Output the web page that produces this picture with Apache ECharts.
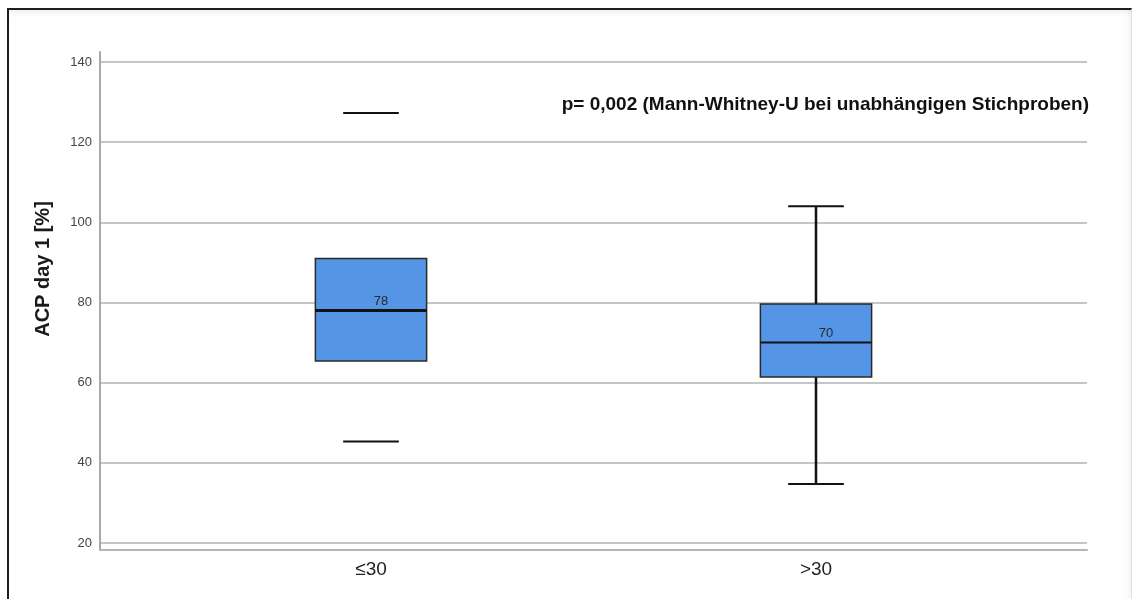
<!DOCTYPE html>
<html>
<head>
<meta charset="utf-8">
<script src="https://cdn.jsdelivr.net/npm/echarts@6/dist/echarts.min.js"></script>
<style>
  html, body { margin: 0; padding: 0; background: #fff; }
  #wrap { position: relative; width: 1135px; height: 599px; overflow: hidden; background: #fff; }
  #frame {
    position: absolute; left: 7px; top: 8px; width: 1125px; height: 620px;
    border-top: 2px solid #1e1e1e; border-left: 2px solid #1e1e1e; border-right: 1px solid #e2e2e2;
    box-shadow: inset 0 6px 10px -6px rgba(0,0,0,0.10), inset -6px 0 10px -6px rgba(0,0,0,0.08);
    box-sizing: border-box;
  }
  #chart { position: absolute; left: 0; top: 0; width: 1135px; height: 599px; }
</style>
</head>
<body>
<div id="wrap">
  <div id="frame"></div>
  <div id="chart"></div>
</div>
<script>
// Groups and box statistics (ACP on day 1, %)
const categories = ['≤30', '>30'];
const lowerWhisker = [45.3, 34.7];
const q1 = [65.4, 61.4];
const median = [78, 70];
const q3 = [91, 79.6];
const upperWhisker = [127.3, 104];
const drawStem = [false, true];
const yTicks = [20, 40, 60, 80, 100, 120, 140];
const pValueNote = 'p= 0,002 (Mann-Whitney-U bei unabhängigen Stichproben)';
const yTitle = 'ACP day 1 [%]';

const rows = categories.map((c, i) => [i, lowerWhisker[i], q1[i], median[i], q3[i], upperWhisker[i]]);

const FONT = '"Liberation Sans", Arial, sans-serif';
const X_MIN = -0.609, X_MAX = 1.609;

function renderBox(params, api) {
  const i = api.value(0);
  const cx = api.coord([i, 0])[0];
  const boxW = api.size([0.25, 0])[0];
  const capW = api.size([0.125, 0])[0];
  const yLo = api.coord([i, api.value(1)])[1];
  const yQ1 = api.coord([i, api.value(2)])[1];
  const yMed = api.coord([i, api.value(3)])[1];
  const yQ3 = api.coord([i, api.value(4)])[1];
  const yHi = api.coord([i, api.value(5)])[1];
  const black = '#111';
  const children = [];
  if (drawStem[i]) {
    children.push({ type: 'line', shape: { x1: cx, y1: yQ3, x2: cx, y2: yHi }, style: { stroke: black, lineWidth: 2.5 } });
    children.push({ type: 'line', shape: { x1: cx, y1: yQ1, x2: cx, y2: yLo }, style: { stroke: black, lineWidth: 2.5 } });
  }
  children.push({ type: 'line', shape: { x1: cx - capW / 2, y1: yHi, x2: cx + capW / 2, y2: yHi }, style: { stroke: black, lineWidth: 2 } });
  children.push({ type: 'line', shape: { x1: cx - capW / 2, y1: yLo, x2: cx + capW / 2, y2: yLo }, style: { stroke: black, lineWidth: 2 } });
  children.push({ type: 'rect', shape: { x: cx - boxW / 2, y: yQ3, width: boxW, height: yQ1 - yQ3 },
    style: { fill: '#5595e5', stroke: '#2a2a2a', lineWidth: 1.5 } });
  children.push({ type: 'line', shape: { x1: cx - boxW / 2, y1: yMed, x2: cx + boxW / 2, y2: yMed },
    style: { stroke: black, lineWidth: i === 0 ? 3 : 2 } });
  children.push({ type: 'text', style: { text: String(api.value(3)), x: cx + 10, y: yMed - 3,
    align: 'center', verticalAlign: 'bottom', font: '13px ' + FONT, fill: '#2a2a2a' } });
  return { type: 'group', children };
}

const chart = echarts.init(document.getElementById('chart'), null, { renderer: 'canvas' });
chart.setOption({
  backgroundColor: 'transparent',
  animation: false,
  title: {
    text: pValueNote, right: 46, top: 95, padding: 0,
    textStyle: { fontFamily: FONT, fontSize: 19, fontWeight: 'bold', color: '#111' }
  },
  graphic: [{
    type: 'text', x: 43, y: 269, rotation: Math.PI / 2,
    style: { text: yTitle, font: 'bold 20px ' + FONT, fill: '#1a1a1a', align: 'center', verticalAlign: 'middle' }
  }],
  grid: [
    { left: 100, right: 48, top: 62, bottom: 56 },
    { left: 100, right: 48, top: 52, bottom: 49 }
  ],
  xAxis: [
    { type: 'value', gridIndex: 0, min: X_MIN, max: X_MAX, show: false },
    {
      type: 'value', gridIndex: 1, min: X_MIN, max: X_MAX,
      axisLine: { show: true, onZero: false, lineStyle: { color: '#b4b4b4', width: 2 } },
      axisTick: { show: false }, splitLine: { show: false },
      axisLabel: {
        customValues: [0, 1], margin: 10,
        formatter: v => categories[Math.round(v)],
        fontFamily: FONT, fontSize: 19, color: '#222'
      }
    }
  ],
  yAxis: [
    {
      type: 'value', gridIndex: 0, min: yTicks[0], max: yTicks[yTicks.length - 1], interval: 20,
      axisLine: { show: false }, axisTick: { show: false },
      axisLabel: { margin: 8, fontFamily: FONT, fontSize: 13, color: '#444' },
      splitLine: { show: true, lineStyle: { color: '#c6c6c6', width: 2 } }
    },
    {
      type: 'value', gridIndex: 1, min: 0, max: 1,
      axisLine: { show: true, onZero: false, lineStyle: { color: '#a8a8a8', width: 2 } },
      axisTick: { show: false }, axisLabel: { show: false }, splitLine: { show: false }
    }
  ],
  series: [{
    type: 'custom', xAxisIndex: 0, yAxisIndex: 0,
    renderItem: renderBox,
    encode: { x: 0, y: [1, 2, 3, 4, 5] },
    data: rows,
    clip: false
  }]
});
</script>
</body>
</html>
